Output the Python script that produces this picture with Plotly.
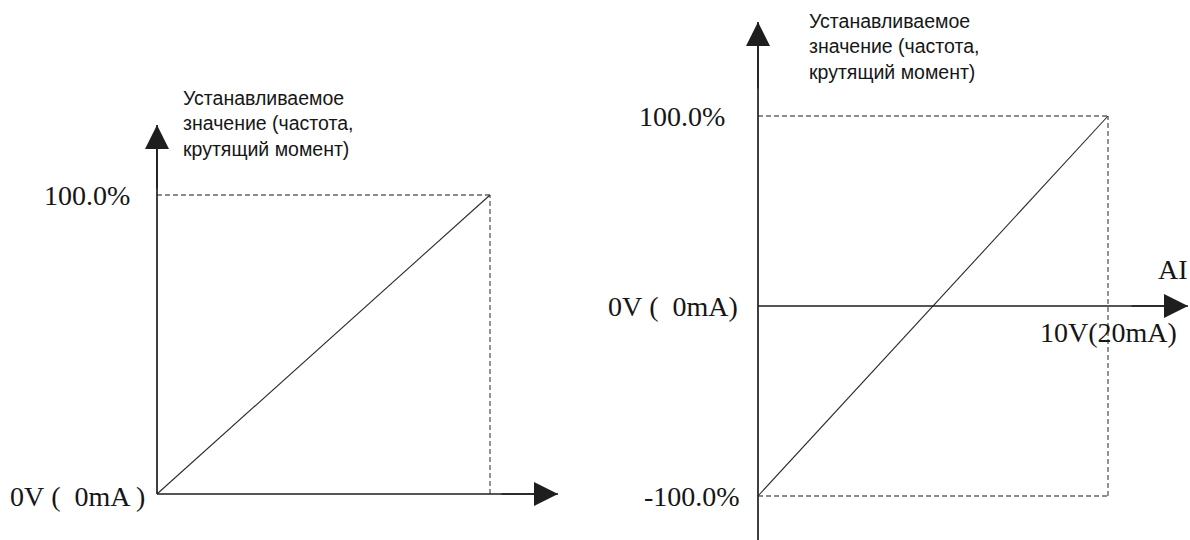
import plotly.graph_objects as go

W, H = 1190, 540

# ---------------- data ----------------
ai_volts = [0, 10]                 # analog input: 0 V (0 mA) .. 10 V (20 mA)
setpoint_unipolar = [0, 100]       # % , left diagram
setpoint_bipolar = [-100, 100]     # % , right diagram
left_y_labels = ["0V\u00a0(\u00a0\u00a00mA )", "100.0%"]
right_y_labels = ["-100.0%", "0V\u00a0(\u00a0\u00a00mA)", "100.0%"]
right_x_label = "10V(20mA)"
right_x_name = "AI"
y_title = "Устанавливаемое<br>значение (частота,<br>крутящий момент)"

# ---------------- layout anchors (pixels) ----------------
# pixel position of x=0, x=10, y=0, y=100 for each diagram
PANELS = {
    "L": dict(x0=157, x10=490, y0=494, y100=195, dom=(0.0, 0.5)),
    "R": dict(x0=758, x10=1108, y0=306, y100=116, dom=(0.5, 1.0)),
}

def sx(p):
    return (p["x10"] - p["x0"]) / 10.0

def sy(p):
    return (p["y0"] - p["y100"]) / 100.0

def px2x(p, px):
    return (px - p["x0"]) / sx(p)

def px2y(p, py):
    return (p["y0"] - py) / sy(p)

AX_COL = "#1e1e1e"
LINE_COL = "#2a2a2a"
DASH_COL = "#666666"
TXT_COL = "#161616"
SERIF = "Liberation Serif"
SANS = "Liberation Sans"

fig = go.Figure()
annotations = []

def dashed(xref, yref, xs, ys):
    fig.add_trace(go.Scatter(x=xs, y=ys, mode="lines", xaxis=xref, yaxis=yref,
                             line=dict(color=DASH_COL, width=1.4, dash="5px,3px"),
                             hoverinfo="skip", showlegend=False))

def solid(xref, yref, xs, ys, width, color):
    fig.add_trace(go.Scatter(x=xs, y=ys, mode="lines", xaxis=xref, yaxis=yref,
                             line=dict(color=color, width=width),
                             hoverinfo="skip", showlegend=False))

def arrow_head(xref, yref, x, y, ax, ay):
    annotations.append(dict(x=x, y=y, ax=ax, ay=ay, xref=xref, yref=yref,
                            axref=xref, ayref=yref, text="", showarrow=True,
                            arrowhead=2, arrowsize=3.0, arrowwidth=1.6,
                            arrowcolor=AX_COL))

def label(xref, yref, x, y, text, size=28, font=SERIF, xanchor="right",
          yanchor="middle", xshift=0, yshift=0, align="left"):
    annotations.append(dict(x=x, y=y, xref=xref, yref=yref, text=text,
                            showarrow=False, xanchor=xanchor, yanchor=yanchor,
                            xshift=xshift, yshift=yshift, align=align,
                            font=dict(family=font, size=size, color=TXT_COL)))

# ---------------- left diagram ----------------
p = PANELS["L"]
xr, yr = "x", "y"
x_max, y_max = ai_volts[1], setpoint_unipolar[1]
dashed(xr, yr, [ai_volts[0], x_max], [y_max, y_max])
dashed(xr, yr, [x_max, x_max], [setpoint_unipolar[0], y_max])
solid(xr, yr, ai_volts, setpoint_unipolar, 1.1, LINE_COL)
x_tip = px2x(p, 558)
y_tip = px2y(p, 125)
solid(xr, yr, [0, x_tip], [0, 0], 1.7, AX_COL)
solid(xr, yr, [0, 0], [0, y_tip], 1.7, AX_COL)
arrow_head(xr, yr, x_tip, 0, px2x(p, 500), 0)
arrow_head(xr, yr, 0, y_tip, 0, px2y(p, 190))
label(xr, yr, 0, setpoint_unipolar[0], left_y_labels[0], xshift=-10, yshift=-2)
label(xr, yr, 0, y_max, left_y_labels[1], xshift=-25)
label(xr, yr, px2x(p, 181), px2y(p, 123), y_title, size=19.5, font=SANS,
      xanchor="left")

# ---------------- right diagram ----------------
p = PANELS["R"]
xr, yr = "x2", "y2"
x_max = ai_volts[1]
y_lo, y_hi = setpoint_bipolar
dashed(xr, yr, [ai_volts[0], x_max], [y_hi, y_hi])
dashed(xr, yr, [ai_volts[0], x_max], [y_lo, y_lo])
dashed(xr, yr, [x_max, x_max], [y_lo, y_hi])
solid(xr, yr, ai_volts, setpoint_bipolar, 1.1, LINE_COL)
x_tip = px2x(p, 1188)
y_tip = px2y(p, 22)
y_bot = px2y(p, 545)
solid(xr, yr, [0, x_tip], [0, 0], 1.7, AX_COL)
solid(xr, yr, [0, 0], [y_bot, y_tip], 1.7, AX_COL)
arrow_head(xr, yr, x_tip, 0, px2x(p, 1130), 0)
arrow_head(xr, yr, 0, y_tip, 0, px2y(p, 90))
label(xr, yr, 0, y_lo, right_y_labels[0], xshift=-16)
label(xr, yr, 0, 0, right_y_labels[1], xshift=-18)
label(xr, yr, 0, y_hi, right_y_labels[2], xshift=-31)
label(xr, yr, x_max, 0, right_x_label, xanchor="center", yshift=-26)
label(xr, yr, px2x(p, 1156), px2y(p, 269), right_x_name, xanchor="left")
label(xr, yr, px2x(p, 807), px2y(p, 46), y_title, size=19.5, font=SANS,
      xanchor="left")

# ---------------- axes ----------------
def axis_ranges(p):
    d0, d1 = p["dom"]
    xa = [px2x(p, d0 * W), px2x(p, d1 * W)]
    ya = [px2y(p, H), px2y(p, 0)]
    return xa, ya

hidden = dict(visible=False, showgrid=False, zeroline=False, fixedrange=True)
lx, ly = axis_ranges(PANELS["L"])
rx, ry = axis_ranges(PANELS["R"])

fig.update_layout(
    width=W, height=H,
    margin=dict(l=0, r=0, t=0, b=0),
    paper_bgcolor="white", plot_bgcolor="white",
    showlegend=False,
    xaxis=dict(domain=list(PANELS["L"]["dom"]), range=lx, anchor="y", **hidden),
    yaxis=dict(domain=[0, 1], range=ly, anchor="x", **hidden),
    xaxis2=dict(domain=list(PANELS["R"]["dom"]), range=rx, anchor="y2", **hidden),
    yaxis2=dict(domain=[0, 1], range=ry, anchor="x2", **hidden),
    annotations=annotations,
)

fig.write_html(
    "out.html",
    config={"displayModeBar": False},
    post_script="document.body.style.margin='0';document.body.style.overflow='hidden';",
)
